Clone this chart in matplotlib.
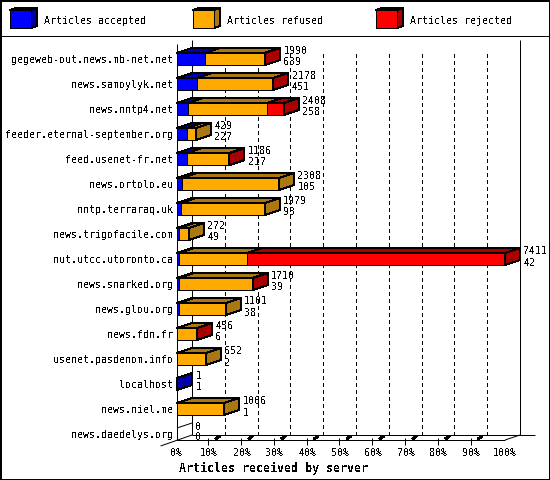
import numpy as np
import matplotlib
matplotlib.use("Agg")
import matplotlib.pyplot as plt
from matplotlib.patches import Polygon, Rectangle

plt.rcParams['font.family'] = ['DejaVu Sans Mono']
plt.rcParams['text.antialiased'] = False
plt.rcParams['text.hinting'] = 'auto'

servers = ["gegeweb-out.news.mb-net.net", "news.samoylyk.net", "news.nntp4.net",
           "feeder.eternal-september.org", "feed.usenet-fr.net", "news.ortolo.eu",
           "nntp.terraraq.uk", "news.trigofacile.com", "nut.utcc.utoronto.ca",
           "news.snarked.org", "news.glou.org", "news.fdn.fr", "usenet.pasdenom.info",
           "localhost", "news.niel.me", "news.daedelys.org"]
total = [1990, 2178, 2408, 429, 1186, 2308, 1979, 272, 7411, 1710, 1101, 456, 652, 1, 1066, 0]
accepted = [639, 451, 258, 227, 217, 105, 93, 49, 42, 39, 38, 6, 2, 1, 1, 0]
# rejected counts are not printed
rejected = [12, 8, 374, 0, 20, 0, 0, 0, 5833, 20, 0, 5, 0, 0, 0, 0]
pct_ticks = [0, 10, 20, 30, 40, 50, 60, 70, 80, 90, 100]

legend_names = ["Articles accepted", "Articles refused", "Articles rejected"]
front_colors = ["#0000ff", "#ffaa00", "#ff0000"]
dark_colors = ["#0000aa", "#aa7711", "#aa0000"]

W, H = 550, 480
LW = 0.72
LINE = dict(color="black", lw=LW, antialiased=True, solid_capstyle="butt", clip_on=False)

# pixel sizes of the fake 3d look, converted to data units below
px_x = 100 / 328
px_y = 1 / 25
depth_x = 15 * px_x
depth_y = 5 * px_y
half_bar = 6 * px_y
floor = 15.24


def poly(ax, pts, color, z=3):
    ax.add_patch(Polygon(pts, closed=True, facecolor=color, edgecolor="black",
                         linewidth=LW, antialiased=False, zorder=z, clip_on=False))


def bar3d(ax, row, x0, x1, i, side):
    top = row - half_bar
    bot = row + half_bar
    poly(ax, [(x0, top), (x0 + depth_x, top - depth_y), (x1 + depth_x, top - depth_y), (x1, top)], dark_colors[i])
    poly(ax, [(x0, top), (x1, top), (x1, bot), (x0, bot)], front_colors[i], 4)
    if side:
        poly(ax, [(x1, top), (x1 + depth_x, top - depth_y), (x1 + depth_x, bot - depth_y), (x1, bot)], dark_colors[i], 4)


fig = plt.figure(figsize=(W / 100, H / 100), dpi=100, facecolor="white")

# whole figure in pixels for the frame and the legend
bg = fig.add_axes([0, 0, 1, 1])
bg.set_xlim(0, W)
bg.set_ylim(H, 0)
bg.axis("off")
bg.add_patch(Rectangle((0.5, 0.5), W - 1, H - 1, fill=False, edgecolor="black", linewidth=1.44, antialiased=False))
bg.plot([0, W], [35.5, 35.5], **LINE)
for k, name in enumerate(legend_names):
    x = 10 + 183 * k
    poly(bg, [(x, 10), (x + 6, 8), (x + 27, 8), (x + 21, 10)], dark_colors[k])
    poly(bg, [(x + 21, 10), (x + 27, 8), (x + 27, 26), (x + 21, 28)], dark_colors[k])
    poly(bg, [(x, 10), (x + 21, 10), (x + 21, 28), (x, 28)], front_colors[k])
    bg.text(x + 34, 21, name, fontsize=7.2, ha="left", va="center")

ax = fig.add_axes([177 / W, 40 / H, 328 / W, 400 / H])
ax.set_xlim(0, 100)
ax.set_ylim(floor, -0.76)
ax.axis("off")

# back wall and grid
ax.plot([depth_x, depth_x], [floor - depth_y, -0.76], zorder=1, **LINE)
ax.plot([100 + depth_x, 100 + depth_x], [floor - depth_y, -0.76], zorder=1, **LINE)
for p in pct_ticks[1:-1]:
    ax.plot([p + depth_x, p + depth_x], [floor - depth_y, -0.36], color="black", lw=LW,
            ls=(0, (4, 4)), antialiased=False, zorder=1)

# floor
ax.plot([0, 0], [floor, -0.6], zorder=2, **LINE)
ax.plot([0, 100], [floor, floor], zorder=2, **LINE)
ax.plot([depth_x, 100 + 2 * depth_x], [floor - depth_y, floor - depth_y], zorder=2, **LINE)
ax.plot([-5, depth_x], [floor + 6 * px_y, floor - depth_y], zorder=2, **LINE)
ax.plot([100, 100 + depth_x], [floor, floor - depth_y], zorder=2, **LINE)

for p in pct_ticks:
    ax.text(p - 0.2, floor + 13 * px_y, f"{p}%", fontsize=7.2, ha="center", va="center", clip_on=False)
    if p in (0, 100):
        continue
    ax.plot([p - 0.5, p - 0.5], [floor - 2 * px_y, floor + 5 * px_y], zorder=2, **LINE)
    ax.plot([p + 2.0, p + 2.8], [floor - 1.5 * px_y, floor - 3.5 * px_y], color="black", lw=1.5,
            antialiased=False, zorder=2)

ax.text(29.5, floor + 28 * px_y, "Articles received by server", fontsize=8.4, fontweight="bold",
        ha="center", va="center", clip_on=False)

max_total = max(total)
for row, name in enumerate(servers):
    ax.text(-4 * px_x, row + px_y, name, fontsize=7.2, ha="right", va="center", clip_on=False)
    refused = total[row] - accepted[row] - rejected[row]
    parts = [accepted[row], refused, rejected[row]]
    start = 0.0
    nonzero = [i for i, v in enumerate(parts) if v > 0]
    for i in nonzero:
        end = start + parts[i] / max_total * 100
        bar3d(ax, row, start, end, i, i == nonzero[-1])
        start = end
    if not nonzero:
        # empty server, only the outline is left
        ax.plot([0, depth_x], [row - half_bar, row - half_bar - depth_y], zorder=3, **LINE)
    label_x = start + depth_x + 3.5 * px_x
    ax.text(label_x, row - 7.5 * px_y, str(total[row]), fontsize=7.2, ha="left", va="center", zorder=5, clip_on=False)
    ax.text(label_x, row + 3.5 * px_y, str(accepted[row]), fontsize=7.2, ha="left", va="center", zorder=5, clip_on=False)

fig.savefig("out.png", dpi=100, facecolor="white")
